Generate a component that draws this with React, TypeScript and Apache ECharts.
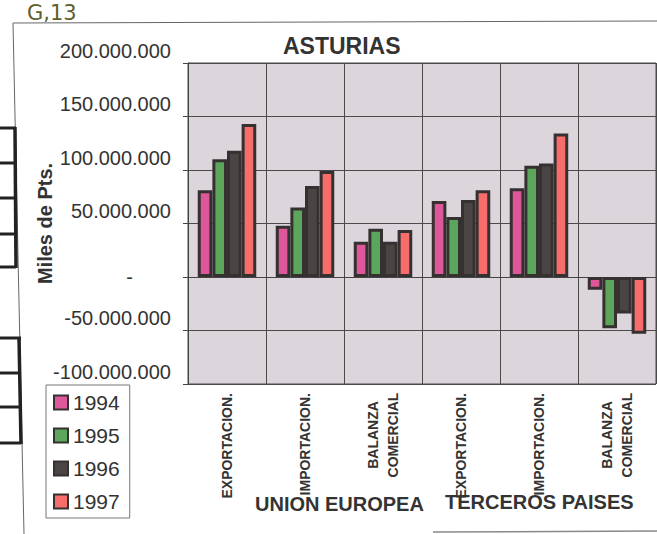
import React, { useEffect, useRef } from "react";
import * as echarts from "echarts";

const categories = [
  "EXPORTACION.",
  "IMPORTACION.",
  "BALANZA\nCOMERCIAL",
  "EXPORTACION.",
  "IMPORTACION.",
  "BALANZA\nCOMERCIAL",
];
const years = ["1994", "1995", "1996", "1997"];
const v1994 = [81000000, 48000000, 33000000, 71000000, 83000000, -12000000];
const v1995 = [110000000, 65000000, 45000000, 56000000, 104000000, -48000000];
const v1996 = [118000000, 85000000, 33000000, 72000000, 106000000, -34000000];
const v1997 = [143000000, 99000000, 44000000, 81000000, 134000000, -53000000];
const groupLabels = ["UNION EUROPEA", "TERCEROS PAISES"];
const colors = ["#de579b", "#5ba65b", "#4a4444", "#f76d6b"];

const FONT = "'Liberation Sans', Arial, sans-serif";
const TXT = "#333";
const BORDER = "#363131";

function fmt(v: number): string {
  if (v === 0) return "{z|-}";
  const neg = v < 0;
  const s = String(Math.abs(v)).replace(/\B(?=(\d{3})+(?!\d))/g, ".");
  return "{n|" + (neg ? "-" : "") + s + "}";
}

export default function App() {
  const ref = useRef<HTMLDivElement>(null);
  useEffect(() => {
    if (!ref.current) return;
    const chart = echarts.init(ref.current, null, { renderer: "svg" });
    const allData = [v1994, v1995, v1996, v1997];
    const option: any = {
      animation: false,
      backgroundColor: "#ffffff",
      title: {
        text: "ASTURIAS",
        left: 283,
        top: 34,
        padding: 0,
        textStyle: { fontFamily: FONT, fontSize: 23, fontWeight: "bold", color: TXT },
      },
      legend: {
        orient: "vertical",
        left: 46,
        top: 385,
        padding: [7, 10, 6, 7],
        itemWidth: 14,
        itemHeight: 14,
        itemGap: 12,
        borderColor: "#777",
        borderWidth: 1,
        icon: "rect",
        data: years,
        textStyle: { fontFamily: FONT, fontSize: 21, color: TXT, lineHeight: 21 },
        itemStyle: { borderColor: BORDER, borderWidth: 2 },
      },
      grid: {
        left: 188,
        top: 63,
        right: 1,
        bottom: 150,
        show: true,
        backgroundColor: "#dcd5dc",
        borderColor: "#4a4a4a",
        borderWidth: 1,
      },
      xAxis: {
        type: "category",
        data: categories,
        axisLine: { lineStyle: { color: "#444", width: 1 } },
        axisTick: { show: false },
        splitLine: { show: true, interval: 0, lineStyle: { color: "#4a4a4a", width: 1 } },
        axisLabel: {
          interval: 0,
          rotate: 90,
          margin: 9,
          fontFamily: FONT,
          fontSize: 14,
          fontWeight: "bold",
          color: TXT,
          lineHeight: 20,
          formatter: (v: string) => {
            if (v.indexOf("\n") >= 0) {
              return v
                .split("\n")
                .map((p) => "{c|" + p + "}")
                .join("\n");
            }
            return v;
          },
          rich: {
            c: {
              width: 84,
              align: "center",
              fontFamily: FONT,
              fontSize: 14,
              fontWeight: "bold",
              color: TXT,
              lineHeight: 20,
            },
          },
        },
      },
      yAxis: {
        type: "value",
        min: -100000000,
        max: 200000000,
        interval: 50000000,
        name: "Miles de Pts.",
        nameLocation: "middle",
        nameRotate: 90,
        nameGap: 133,
        nameMoveOverlap: false,
        nameTextStyle: { fontFamily: FONT, fontSize: 20, fontWeight: "bold", color: TXT },
        axisLine: { show: true, lineStyle: { color: "#444", width: 1 } },
        axisTick: { show: true, length: 5, lineStyle: { color: "#444" } },
        splitLine: { show: true, lineStyle: { color: "#4a4a4a", width: 1 } },
        axisLabel: {
          margin: 17,
          fontFamily: FONT,
          fontSize: 20,
          color: TXT,
          formatter: fmt,
          rich: {
            n: { padding: [0, 0, 25, 0], lineHeight: 22, fontFamily: FONT, fontSize: 20, color: TXT },
            z: { padding: [0, 38, 0, 0], lineHeight: 22, fontFamily: FONT, fontSize: 20, color: TXT },
          },
        },
      },
      series: years.map((y, i) => ({
        name: y,
        type: "bar",
        data: allData[i],
        barGap: "0%",
        barCategoryGap: "25%",
        itemStyle: { color: colors[i], borderColor: BORDER, borderWidth: 3 },
      })),
      color: colors,
      graphic: [
        {
          type: "text",
          left: 255,
          top: 494,
          style: { text: groupLabels[0], font: "bold 20px " + FONT, fill: TXT },
        },
        {
          type: "text",
          left: 445,
          top: 492,
          style: { text: groupLabels[1], font: "bold 20px " + FONT, fill: TXT },
        },
        {
          type: "text",
          left: 27,
          top: 2,
          style: { text: "G,13", font: "21px 'DejaVu Sans', sans-serif", fill: "#60602c" },
        },
        { type: "line", shape: { x1: 13, y1: 23, x2: 24, y2: 534 }, style: { stroke: "#666", lineWidth: 1 } },
        { type: "line", shape: { x1: 13, y1: 23, x2: 657, y2: 21 }, style: { stroke: "#666", lineWidth: 1 } },
        { type: "line", shape: { x1: 433, y1: 532, x2: 657, y2: 531 }, style: { stroke: "#888", lineWidth: 1.5 } },
        { type: "line", shape: { x1: 15, y1: 127, x2: 16, y2: 268 }, style: { stroke: "#222", lineWidth: 3.5 } },
        { type: "line", shape: { x1: 19, y1: 337, x2: 21, y2: 444 }, style: { stroke: "#222", lineWidth: 3.5 } },
        ...[128, 163, 198, 234, 267].map((y) => ({
          type: "line",
          shape: { x1: 0, y1: y, x2: 16, y2: y },
          style: { stroke: "#222", lineWidth: 3 },
        })),
        ...[338, 373, 407, 443].map((y) => ({
          type: "line",
          shape: { x1: 0, y1: y, x2: 21, y2: y },
          style: { stroke: "#222", lineWidth: 3 },
        })),
      ],
    };
    chart.setOption(option);
    return () => chart.dispose();
  }, []);
  return <div ref={ref} style={{ width: 657, height: 534, position: "absolute", left: 0, top: 0 }} />;
}
